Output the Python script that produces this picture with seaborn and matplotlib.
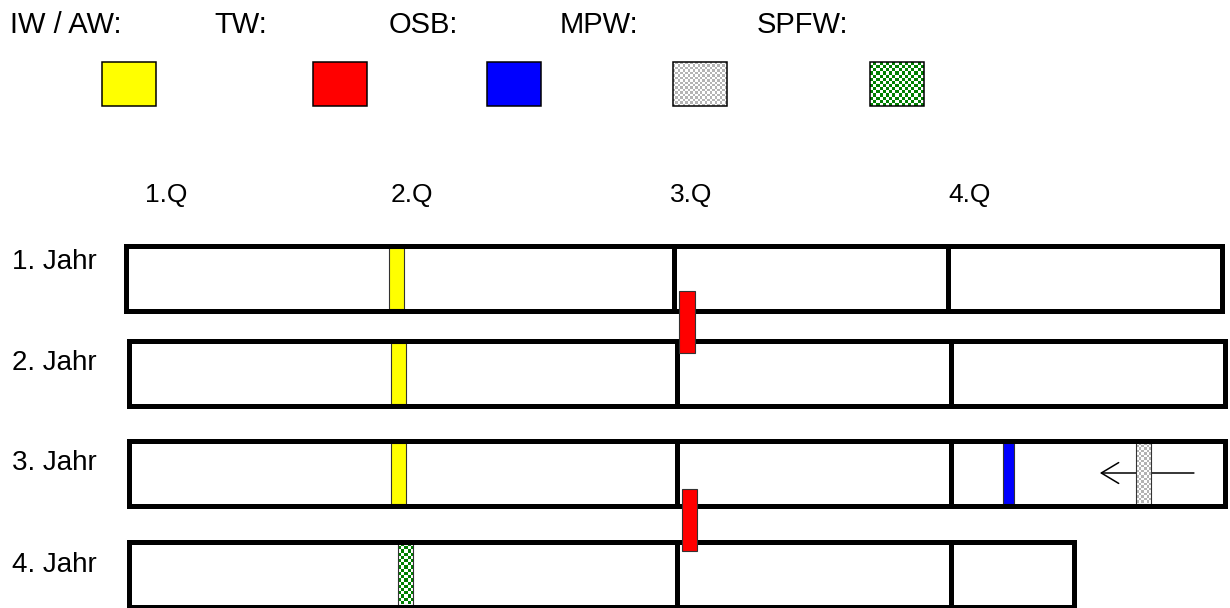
import numpy as np
import matplotlib
matplotlib.use('Agg')
import matplotlib.pyplot as plt
from matplotlib.colors import ListedColormap
import seaborn as sns

# Zeitachse in Monaten (0 = Jahresbeginn)
years = ['1. Jahr', '2. Jahr', '3. Jahr', '4. Jahr']
year_start = [-0.03, 0.0, 0.0, 0.0]
year_length = [12.0, 12.0, 12.0, 10.35]
dividers = [6.0, 9.0]

quarters = ['1.Q', '2.Q', '3.Q', '4.Q']
quarter_pos = [0.18, 2.86, 5.92, 8.97]

legend_names = ['IW / AW:', 'TW:', 'OSB:', 'MPW:', 'SPFW:']
legend_keys = ['IW / AW', 'TW', 'OSB', 'MPW', 'SPFW']

# Ereignisse: Art, Jahr (x.5 = Jahreswechsel), Monat
event_kind = ['IW / AW', 'IW / AW', 'IW / AW', 'SPFW', 'TW', 'TW', 'OSB', 'MPW']
event_year = [1, 2, 3, 4, 1.5, 3.5, 3, 3]
event_month = [2.93, 2.95, 2.95, 3.03, 6.11, 6.14, 9.63, 11.11]

# Pfeil im 3. Jahr (MPW verschiebt sich nach vorne)
arrow_from = 11.66
arrow_to = 10.63

# Stil
fill = {'IW / AW': '#ffff00', 'TW': '#ff0000', 'OSB': '#0000ff',
        'MPW': '#b4b4b4', 'SPFW': '#008000'}
checkered = {'MPW': 2.5, 'SPFW': 3.2}   # Zellgroesse in px
mark_width = {'OSB': 0.12}
px_per_month = 91.33
x0_px = 129
row_centers = [278, 373, 473, 574]
row_height = 65
year_label_y = [269, 370, 470, 572]
legend_text_x = [10, 214, 389, 560, 757]
legend_swatch_x = [102, 313, 487, 673, 870]

sns.set_theme(style='white')
plt.rcParams['font.family'] = ['Liberation Sans', 'DejaVu Sans']
plt.rcParams['text.color'] = 'black'

fig = plt.figure(figsize=(12.3, 6.08), dpi=100)
ax = fig.add_axes([0, 0, 1, 1])
lg = fig.add_axes([0, 0, 1, 1])
for a in (ax, lg):
    a.set_axis_off()
    a.patch.set_alpha(0)


def checker_rect(a, left, right, top, bottom, color, nx, ny, z):
    arr = np.add.outer(np.arange(ny), np.arange(nx)) % 2
    a.imshow(arr, extent=(left, right, bottom, top), cmap=ListedColormap(['white', color]),
             interpolation='nearest', aspect='auto', zorder=z)


# Jahresbalken
ax.barh(row_centers, year_length, left=year_start, height=row_height, fill=False,
        edgecolor='black', linewidth=3.6, zorder=4, joinstyle='miter')
for yc, s, L in zip(row_centers, year_start, year_length):
    ax.vlines([s + d for d in dividers if d < L], yc - row_height / 2, yc + row_height / 2,
              color='black', linewidth=3.6, zorder=4)

# Beschriftungen
for q, xq in zip(quarters, quarter_pos):
    ax.text(xq, 202, q, fontsize=19, ha='left', va='baseline', color='black')
for name, yl in zip(years, year_label_y):
    ax.text(-1.285, yl, name, fontsize=20, ha='left', va='baseline', color='black')

# Pfeil
ax.annotate('', xy=(arrow_to, 473), xytext=(arrow_from, 473),
            arrowprops=dict(arrowstyle='->,head_length=1.25,head_width=0.75', lw=1.1,
                            color='black', shrinkA=0, shrinkB=0, mutation_scale=10),
            zorder=3)

# Ereignisse
for kind, yr, m in zip(event_kind, event_year, event_month):
    between = yr % 1 != 0
    yc = np.interp(yr, [1, 2, 3, 4], row_centers) - (3.5 if between else 0)
    h = 62 if between else 61
    z = 6 if between else 3
    w = mark_width.get(kind, 0.165)
    top, bottom = yc - h / 2, yc + h / 2
    if kind in checkered:
        cell = checkered[kind]
        nx = max(1, int(round(w * px_per_month / cell)))
        ny = int(round(h / cell))
        checker_rect(ax, m - w / 2, m + w / 2, top, bottom, fill[kind], nx, ny, z)
        ax.bar(m, h, bottom=top, width=w, fill=False, edgecolor='#333333', linewidth=0.8, zorder=z)
    else:
        ax.bar(m, h, bottom=top, width=w, color=fill[kind], edgecolor='#333333',
               linewidth=0.8, zorder=z)

ax.set_xlim(-x0_px / px_per_month, (1230 - x0_px) / px_per_month)
ax.set_ylim(608, 0)

# Legende
for name, key, tx, sx in zip(legend_names, legend_keys, legend_text_x, legend_swatch_x):
    lg.text(tx, 33, name, fontsize=21, ha='left', va='baseline', color='black')
    if key in checkered:
        cell = checkered[key]
        checker_rect(lg, sx, sx + 54, 62, 106, fill[key], int(round(54 / cell)), int(round(44 / cell)), 2)
        lg.bar(sx, 44, bottom=62, width=54, align='edge', fill=False, edgecolor='black',
               linewidth=1.1, zorder=3)
    else:
        lg.bar(sx, 44, bottom=62, width=54, align='edge', color=fill[key], edgecolor='black',
               linewidth=1.1, zorder=3)
lg.set_xlim(0, 1230)
lg.set_ylim(608, 0)

fig.savefig('out.png', dpi=100)
